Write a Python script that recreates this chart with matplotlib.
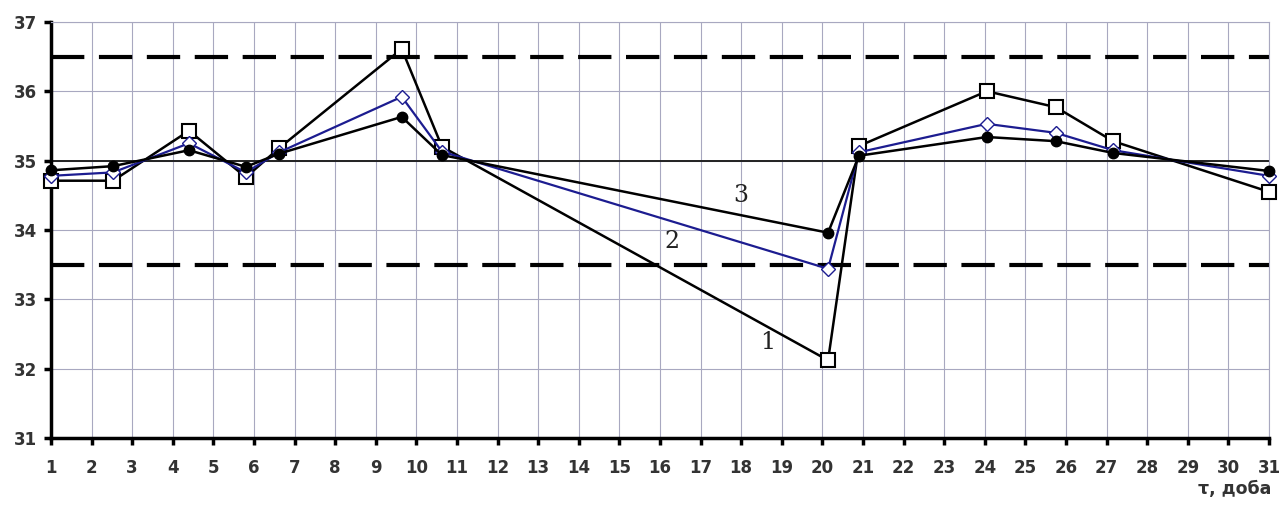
import matplotlib
matplotlib.use("Agg")
import matplotlib.pyplot as plt

x_days = [1, 2.53, 4.4, 5.8, 6.62, 9.64, 10.63, 20.14, 20.9, 24.05, 25.75, 27.16, 31]
series1 = [34.71, 34.71, 35.43, 34.76, 35.18, 36.61, 35.20, 32.12, 35.21, 36.00, 35.77, 35.28, 34.55]
series2 = [34.78, 34.83, 35.25, 34.83, 35.12, 35.92, 35.13, 33.44, 35.12, 35.53, 35.40, 35.15, 34.78]
series3 = [34.86, 34.92, 35.15, 34.91, 35.10, 35.63, 35.08, 33.96, 35.07, 35.34, 35.28, 35.11, 34.85]
upper_limit = 36.5
lower_limit = 33.5
norm_value = 35.0
x_ticks = list(range(1, 32))
y_ticks = list(range(31, 38))
curve_labels = ["1", "2", "3"]
label_pos = [(18.66, 32.37), (16.3, 33.83), (18.0, 34.5)]

fig = plt.figure(figsize=(12.87, 5.09), dpi=100)
ax = fig.add_axes([0.0396, 0.1395, 0.9464, 0.8175])
ax.set_xlim(1, 31)
ax.set_ylim(31, 37)
ax.set_xticks(x_ticks)
ax.set_yticks(y_ticks)
ax.grid(True, color="#a8a8c0", linewidth=0.8, zorder=0)
ax.set_axisbelow(True)

ax.axhline(norm_value, color="#222222", linewidth=1.4, zorder=1)
ax.axhline(upper_limit, color="black", linewidth=3, dashes=(8, 3.5), zorder=1)
ax.axhline(lower_limit, color="black", linewidth=3, dashes=(8, 3.5), zorder=1)

ax.plot(x_days, series1, color="black", linewidth=1.8, marker="s", markersize=10,
        markerfacecolor="white", markeredgecolor="black", markeredgewidth=1.5, zorder=3, clip_on=False)
ax.plot(x_days, series2, color="#1c1c90", linewidth=1.6, marker="D", markersize=7,
        markerfacecolor="white", markeredgecolor="#1c1c90", markeredgewidth=1.0, zorder=4, clip_on=False)
ax.plot(x_days, series3, color="black", linewidth=1.8, marker="o", markersize=7.5,
        markerfacecolor="black", markeredgecolor="black", zorder=5, clip_on=False)

for lab, (lx, ly) in zip(curve_labels, label_pos):
    ax.text(lx, ly, lab, fontsize=17, family="DejaVu Serif", ha="center", va="center", color="#222222")

for s in ["top", "right"]:
    ax.spines[s].set_color("#a8a8c0")
    ax.spines[s].set_linewidth(0.8)
for s in ["left", "bottom"]:
    ax.spines[s].set_color("black")
    ax.spines[s].set_linewidth(2.5)

ax.tick_params(axis="both", direction="out", length=5, width=2.5, labelsize=12, colors="black")
for t in ax.get_xticklabels() + ax.get_yticklabels():
    t.set_fontweight("bold")
    t.set_color("#333333")
ax.tick_params(axis="x", pad=10)
ax.tick_params(axis="y", pad=5)

fig.text(0.988, 0.022, "τ, доба", ha="right", va="bottom", fontsize=12.5, fontweight="bold", color="#333333")

fig.savefig("out.png", dpi=100, facecolor="white")
